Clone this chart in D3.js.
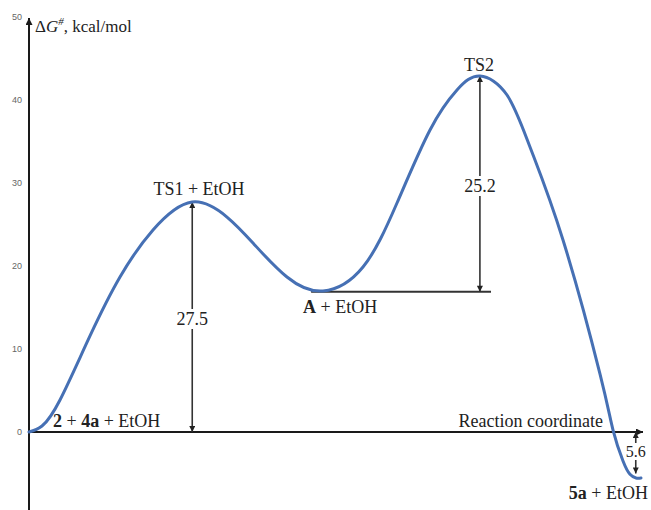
<!DOCTYPE html>
<html><head><meta charset="utf-8">
<script src="https://cdn.jsdelivr.net/npm/d3@7"></script>
<style>
html,body{margin:0;padding:0;background:#fff;}
svg{display:block;}
</style></head>
<body>
<svg id="chart" width="651" height="510"></svg>
<script>
// ---- data (reaction coordinate in arbitrary units 0–100, ΔG in kcal/mol) ----
const coord  = [0, 2.11, 5.03, 9.90, 14.77, 20.13, 26.46, 32.14, 36.36, 41.88, 47.73, 54.22, 59.74, 65.10, 69.48, 73.21, 77.60, 81.33, 86.69, 92.69, 94.81, 96.43, 97.56, 98.54, 99.35];
const energy = [0, 0.72, 3.86, 11.57, 18.67, 24.34, 27.71, 25.90, 22.77, 18.67, 16.99, 19.88, 27.59, 36.39, 41.20, 42.89, 40.60, 34.34, 23.13, 6.99, 0.24, -3.50, -5.10, -5.54, -5.54];
const yTicks = [0, 10, 20, 30, 40, 50];
const barrierLabels = ["27.5", "25.2", "5.6"];
const barrierX    = [26.5, 73.2, 98.5];
const barrierFrom = [0, 16.9, 0];
const barrierTo   = [27.7, 42.9, -5.0];
const levelA = {x0: 45.8, x1: 75.0, v: 16.9};

const SERIF = "'Liberation Serif','Times New Roman','DejaVu Serif',serif";
const svg = d3.select("#chart");
const x = d3.scaleLinear().domain([0, 100]).range([29, 645]);
const y = d3.scaleLinear().domain([-10, 50]).range([515, 17]);

// arrow markers
const defs = svg.append("defs");
function marker(id, color, w, h) {
  defs.append("marker").attr("id", id).attr("viewBox", "0 0 10 10")
    .attr("refX", 10).attr("refY", 5).attr("markerWidth", w).attr("markerHeight", h)
    .attr("markerUnits", "userSpaceOnUse").attr("orient", "auto-start-reverse")
    .append("path").attr("d", "M0,0 L10,5 L0,10 z").attr("fill", color);
}
marker("axArrow", "#1a1a1a", 9, 7);
marker("anArrow", "#222", 8, 6);

// y axis tick labels via d3 axis
const yAxis = svg.append("g").attr("transform", "translate(22,0)")
  .call(d3.axisLeft(y).tickValues(yTicks).tickSize(0).tickPadding(0));
yAxis.select(".domain").remove();
yAxis.selectAll("text").attr("font-family", "'Liberation Sans',Arial,sans-serif")
  .attr("font-size", 9).attr("fill", "#666");

// axes lines
svg.append("line").attr("x1", x(0)).attr("x2", x(0)).attr("y1", 510).attr("y2", y(50) + 1)
  .attr("stroke", "#1a1a1a").attr("stroke-width", 2).attr("marker-end", "url(#axArrow)");
svg.append("line").attr("x1", x(0)).attr("x2", 643).attr("y1", y(0)).attr("y2", y(0))
  .attr("stroke", "#1a1a1a").attr("stroke-width", 2).attr("marker-end", "url(#axArrow)");

// A level line
svg.append("line").attr("x1", x(levelA.x0)).attr("x2", x(levelA.x1))
  .attr("y1", y(levelA.v)).attr("y2", y(levelA.v))
  .attr("stroke", "#333").attr("stroke-width", 2);

// barrier arrows
barrierLabels.forEach((lab, i) => {
  svg.append("line").attr("x1", x(barrierX[i])).attr("x2", x(barrierX[i]))
    .attr("y1", y(barrierFrom[i])).attr("y2", y(barrierTo[i]))
    .attr("stroke", "#333").attr("stroke-width", 1.6)
    .attr("marker-start", "url(#anArrow)").attr("marker-end", "url(#anArrow)");
});

// curve
const pts = coord.map((c, i) => [c, energy[i]]);
svg.append("path").datum(pts)
  .attr("d", d3.line().x(d => x(d[0])).y(d => y(d[1])).curve(d3.curveNatural))
  .attr("fill", "none").attr("stroke", "#4670B4").attr("stroke-width", 3)
  .attr("stroke-linejoin", "round").attr("stroke-linecap", "round");

// barrier labels with white background
const labPos = [
  {cx: x(barrierX[0]), by: 325, size: 18},
  {cx: x(barrierX[1]), by: 192, size: 18},
  {cx: x(barrierX[2]), by: 457, size: 16}
];
barrierLabels.forEach((lab, i) => {
  const p = labPos[i];
  const t = svg.append("text").attr("x", p.cx).attr("y", p.by)
    .attr("font-family", SERIF).attr("fill", "#222")
    .attr("font-size", p.size).attr("text-anchor", "middle").text(lab);
  const bb = t.node().getBBox();
  svg.insert("rect", () => t.node()).attr("x", bb.x - 1).attr("y", bb.y)
    .attr("width", bb.width + 2).attr("height", bb.height).attr("fill", "#fff");
});

// state labels
function rich(xp, yp, anchor, parts, size) {
  const t = svg.append("text").attr("x", xp).attr("y", yp)
    .attr("font-family", SERIF).attr("fill", "#222")
    .attr("text-anchor", anchor).attr("font-size", size || 18);
  parts.forEach(p => {
    const ts = t.append("tspan").text(p.t);
    if (p.b) ts.attr("font-weight", "bold");
  });
  return t;
}
rich(53, 427, "start", [{t: "2", b: 1}, {t: " + "}, {t: "4a", b: 1}, {t: " + EtOH"}]);
rich(199, 195, "middle", [{t: "TS1 + EtOH"}]);
rich(303, 313, "start", [{t: "A", b: 1}, {t: " + EtOH"}]);
rich(479, 71, "middle", [{t: "TS2"}]);
rich(648, 499, "end", [{t: "5a", b: 1}, {t: " + EtOH"}]);
rich(603, 427, "end", [{t: "Reaction coordinate"}]);
// y axis title
const yt = svg.append("text").attr("x", 35).attr("y", 32).attr("font-size", 17)
  .attr("font-family", SERIF).attr("fill", "#222");
yt.append("tspan").text("Δ");
yt.append("tspan").attr("font-style", "italic").text("G");
yt.append("tspan").attr("font-style", "italic").attr("font-size", 11).attr("dy", -7).text("#");
yt.append("tspan").attr("dy", 7).text(", kcal/mol");
</script>
</body></html>
